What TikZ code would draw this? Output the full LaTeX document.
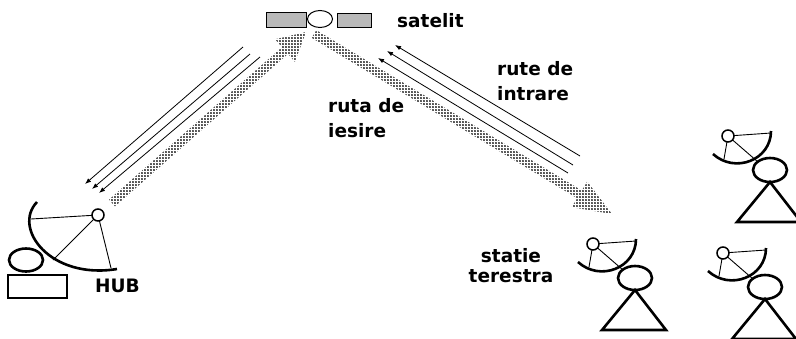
\documentclass[tikz,border=0pt]{standalone}
\usepackage{fontspec}
\setmainfont{DejaVu Sans}
\usetikzlibrary{arrows.meta,patterns,calc}

% mici cruciulite pentru ruta de iesire
\pgfdeclarepatternformonly{xmici}{\pgfpointorigin}{\pgfpoint{3pt}{3pt}}{\pgfpoint{3pt}{3pt}}{
  \pgfsetlinewidth{0.6pt}
  \pgfpathmoveto{\pgfpoint{0.3pt}{0.3pt}}\pgfpathlineto{\pgfpoint{2.3pt}{2.3pt}}
  \pgfpathmoveto{\pgfpoint{0.3pt}{2.3pt}}\pgfpathlineto{\pgfpoint{2.3pt}{0.3pt}}
  \pgfusepath{stroke}
}

\tikzset{
  lbl/.style={font=\fontsize{18.5}{25}\selectfont\bfseries, inner sep=0pt},
  contur/.style={line width=2.6pt},
  fir/.style={line width=0.9pt},
  ruta/.style={pattern=xmici, pattern color=black!80},
  panou/.style={line width=1pt, fill=gray!55},
  sag/.style={line width=0.8pt, -{Latex[length=6pt,width=4.5pt]}},
  statie/.pic={
    \draw[fir] (0,0) -- (43,-3);
    \draw[fir] (0,0) -- (-4,23);
    \draw[fir] (0,0) -- (30,26);
    \draw[contur] (43,-5) .. controls (43,24) and (7,38) .. (-15,18);
    \draw[contur] (42,34) ellipse (17 and 12);
    \draw[contur, line join=miter] (42,46) -- (9,86) -- (73,86) -- cycle;
    \draw[line width=1.5pt, fill=white] (0,0) circle (6);
  }
}

\begin{document}
\begin{tikzpicture}[x=1pt,y=-1pt]
\useasboundingbox (0,0) rectangle (796,338);
\fill[white] (0,0) rectangle (796,338);

% ruta de iesire (hub -> satelit -> statie)
\coordinate (hubout) at (112,203);
\coordinate (urcare) at (306,32);
\coordinate (b1) at ($(urcare)!28pt!(hubout)$);
\path[ruta] ($(hubout)!4.5pt!90:(urcare)$) -- ($(b1)!4.5pt!-90:(hubout)$)
  -- ($(b1)!15pt!-90:(hubout)$) -- (urcare) -- ($(b1)!15pt!90:(hubout)$)
  -- ($(b1)!4.5pt!90:(hubout)$) -- ($(hubout)!4.5pt!-90:(urcare)$) -- cycle;
\coordinate (satout) at (314,34);
\coordinate (coborare) at (612,214);
\coordinate (b2) at ($(coborare)!38pt!(satout)$);
\path[ruta] ($(satout)!4.5pt!90:(coborare)$) -- ($(b2)!4.5pt!-90:(satout)$)
  -- ($(b2)!15pt!-90:(satout)$) -- (coborare) -- ($(b2)!15pt!90:(satout)$)
  -- ($(b2)!4.5pt!90:(satout)$) -- ($(satout)!4.5pt!-90:(coborare)$) -- cycle;

% rute de intrare
\foreach \i/\xa/\ya/\xb/\yb in {1/243/47/85/184, 2/250/54/92/189, 3/260/57/99/193}{
  \coordinate (din\i) at (\xa,\ya);
  \coordinate (spre\i) at (\xb,\yb);
  \draw[sag] (din\i) -- (spre\i);
}
\foreach \i/\xa/\ya/\xb/\yb in {1/580/156/395/45, 2/573/165/387/51, 3/568/173/378/58}{
  \coordinate (st\i) at (\xa,\ya);
  \coordinate (sat\i) at (\xb,\yb);
  \draw[sag] (st\i) -- (sat\i);
}

% satelit
\draw[panou] (266,12) rectangle (306,27);
\draw[line width=1pt] (320,19) ellipse (12.5 and 8.5);
\draw[panou] (337,13) rectangle (371,27);
\node[lbl, anchor=base west] (satelit) at (397,27) {satelit};

% HUB
\draw[fir] (98,215) -- (31,219);
\draw[fir] (98,215) -- (53,260);
\draw[fir] (98,215) -- (111,268);
\draw[contur] (37,202) .. controls (12,228) and (50,280) .. (117,269);
\draw[line width=1.5pt, fill=white] (98,215) circle (6);
\draw[contur] (26,260) ellipse (17 and 11.5);
\draw[contur] (8,275) rectangle (67,298);
\node[lbl, anchor=base west] (hub) at (95,292) {HUB};

% statii terestre
\pic at (593,244) {statie};
\pic at (723,253) {statie};
\pic at (728,136) {statie};

\node[lbl, anchor=base west, align=left] (intrare) at (497,100) {rute de\\intrare};
\node[lbl, anchor=base west, align=left] (iesire) at (328,137) {ruta de\\iesire};
\node[lbl, font=\fontsize{18.5}{19.5}\selectfont\bfseries, anchor=base, align=center] (terestra) at (511,282) {statie\\terestra};
\end{tikzpicture}
\end{document}
